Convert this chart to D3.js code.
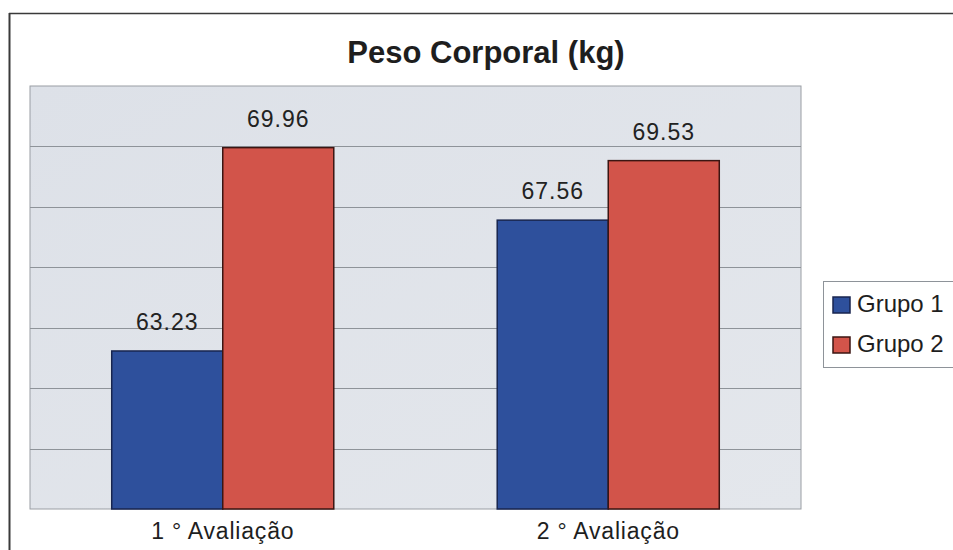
<!DOCTYPE html>
<html>
<head>
<meta charset="utf-8">
<script src="https://cdn.jsdelivr.net/npm/d3@7"></script>
<style>
  html, body { margin: 0; padding: 0; background: #fff; }
  svg { display: block; font-family: "Liberation Sans", Arial, sans-serif; }
</style>
</head>
<body>
<svg id="chart" width="953" height="550"></svg>
<script>
// Body weight per evaluation, two groups
const categories = ["1 ° Avaliação", "2 ° Avaliação"];
const seriesNames = ["Grupo 1", "Grupo 2"];
const grupo1 = [63.23, 67.56];
const grupo2 = [69.96, 69.53];
const yTicks = [58, 60, 62, 64, 66, 68, 70, 72];
const title = "Peso Corporal (kg)";

const colors = ["#2e509c", "#d2544a"];
const strokes = ["#18254f", "#3b1512"];

const svg = d3.select("#chart");
const W = 953, H = 550;

// outer chart frame (left and top edges visible)
svg.append("line").attr("x1", 9.5).attr("x2", 9.5).attr("y1", 13).attr("y2", H)
  .attr("stroke", "#3a3a3a").attr("stroke-width", 2);
svg.append("line").attr("x1", 9).attr("x2", W).attr("y1", 13.5).attr("y2", 13.5)
  .attr("stroke", "#3a3a3a").attr("stroke-width", 1.5);

const plot = { left: 30, top: 86, right: 801, bottom: 509 };

const defs = svg.append("defs");
const grad = defs.append("linearGradient").attr("id", "bg")
  .attr("x1", 0).attr("y1", 0).attr("x2", 1).attr("y2", 1);
grad.append("stop").attr("offset", "0%").attr("stop-color", "#dde1e8");
grad.append("stop").attr("offset", "100%").attr("stop-color", "#e4e7ec");

svg.append("rect")
  .attr("x", plot.left).attr("y", plot.top)
  .attr("width", plot.right - plot.left).attr("height", plot.bottom - plot.top)
  .attr("fill", "url(#bg)").attr("stroke", "#9a9ea4").attr("stroke-width", 1);

const y = d3.scaleLinear().domain([58, 72]).range([plot.bottom, plot.top]);
const x0 = d3.scaleBand().domain(categories).range([plot.left, plot.right]).paddingInner(0).paddingOuter(0);
const groupFrac = 0.576;
const x1 = d3.scaleBand().domain(seriesNames)
  .range([0, x0.bandwidth() * groupFrac]).padding(0);

// horizontal gridlines
svg.append("g").selectAll("line")
  .data(yTicks.slice(1, -1))
  .join("line")
  .attr("x1", plot.left).attr("x2", plot.right)
  .attr("y1", d => Math.round(y(d)) + 0.5).attr("y2", d => Math.round(y(d)) + 0.5)
  .attr("stroke", "#8e9399").attr("stroke-width", 1.2);

const rows = categories.map((c, i) => ({ cat: c, vals: [grupo1[i], grupo2[i]] }));

const groups = svg.append("g").selectAll("g")
  .data(rows)
  .join("g")
  .attr("transform", d => `translate(${x0(d.cat) + x0.bandwidth() * (1 - groupFrac) / 2},0)`);

groups.selectAll("rect")
  .data(d => d.vals.map((v, j) => ({ name: seriesNames[j], v, j })))
  .join("rect")
  .attr("x", d => x1(d.name))
  .attr("y", d => y(d.v))
  .attr("width", x1.bandwidth())
  .attr("height", d => y(58) - y(d.v))
  .attr("fill", d => colors[d.j])
  .attr("stroke", d => strokes[d.j])
  .attr("stroke-width", 1.5);

groups.selectAll("text")
  .data(d => d.vals.map((v, j) => ({ name: seriesNames[j], v, j })))
  .join("text")
  .attr("x", d => x1(d.name) + x1.bandwidth() / 2)
  .attr("y", d => y(d.v) - 21)
  .attr("text-anchor", "middle")
  .attr("font-size", 23)
  .attr("letter-spacing", 1)
  .attr("fill", "#222")
  .text(d => d.v.toFixed(2));

// category labels
svg.append("g").selectAll("text")
  .data(categories)
  .join("text")
  .attr("x", d => x0(d) + x0.bandwidth() / 2)
  .attr("y", 539)
  .attr("text-anchor", "middle")
  .attr("font-size", 23)
  .attr("letter-spacing", 0.8)
  .attr("fill", "#1e1e1e")
  .text(d => d);

// title
svg.append("text")
  .attr("x", 486).attr("y", 63)
  .attr("text-anchor", "middle")
  .attr("font-size", 31)
  .attr("font-weight", "bold")
  .attr("fill", "#1e1e1e")
  .text(title);

// legend
const legend = svg.append("g");
legend.append("rect")
  .attr("x", 823.5).attr("y", 281.5).attr("width", 140).attr("height", 86)
  .attr("fill", "#fff").attr("stroke", "#8e9399").attr("stroke-width", 1);
const items = legend.selectAll("g")
  .data(seriesNames)
  .join("g")
  .attr("transform", (d, i) => `translate(833,${297 + i * 40})`);
items.append("rect")
  .attr("width", 17).attr("height", 16)
  .attr("fill", (d, i) => colors[i])
  .attr("stroke", (d, i) => strokes[i]).attr("stroke-width", 1.5);
items.append("text")
  .attr("x", 24).attr("y", 15)
  .attr("font-size", 24)
  .attr("fill", "#1e1e1e")
  .text(d => d);
</script>
</body>
</html>
